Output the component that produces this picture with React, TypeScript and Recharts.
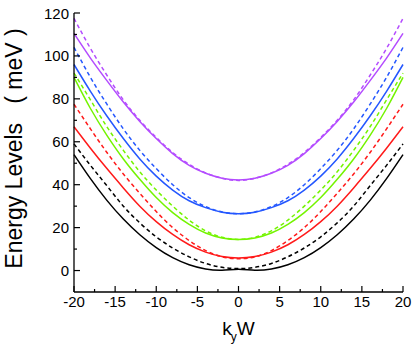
import React from "react";
import { LineChart, Line, XAxis, YAxis } from "recharts";

const kValues = [-20, -18, -16, -14, -12, -10, -8, -6, -4, -2, 0, 2, 4, 6, 8, 10, 12, 14, 16, 18, 20];

const blackSolid = [54, 42.8, 32.7, 24, 16.7, 10.7, 6.0, 2.7, 0.7, 0.1, 0.6, 0.1, 0.7, 2.7, 6.0, 10.7, 16.7, 24, 32.7, 42.8, 54];
const blackDashed = [59, 49, 39.5, 30, 22.2, 15.7, 10.5, 6.4, 3.3, 1.5, 0.9, 1.5, 3.3, 6.4, 10.5, 15.7, 22.2, 30, 39.5, 49, 59];
const redSolid = [67, 57, 47.5, 38.5, 30, 22.8, 16.8, 12, 8.6, 6.5, 5.8, 6.5, 8.6, 12, 16.8, 22.8, 30, 38.5, 47.5, 57, 67];
const redDashed = [77.5, 66, 55, 45, 36, 27.5, 20, 14, 9.3, 6.4, 5.5, 6.4, 9.3, 14, 20, 27.5, 36, 45, 55, 66, 77.5];
const greenSolid = [90, 75.5, 63, 52, 42.5, 34, 27, 21.5, 17.5, 15.2, 14.5, 15.2, 17.5, 21.5, 27, 34, 42.5, 52, 63, 75.5, 90];
const greenDashed = [92, 79.5, 67, 56, 46, 37.5, 30, 23.5, 18.5, 15.5, 14.5, 15.5, 18.5, 23.5, 30, 37.5, 46, 56, 67, 79.5, 92];
const blueSolid = [96, 83.5, 72, 61.5, 52, 44, 37.5, 32.5, 29.3, 27.2, 26.5, 27.2, 29.3, 32.5, 37.5, 44, 52, 61.5, 72, 83.5, 96];
const blueDashed = [104, 90, 77.5, 66, 56, 47.5, 40, 34, 29.8, 27.3, 26.5, 27.3, 29.8, 34, 40, 47.5, 56, 66, 77.5, 90, 104];
const purpleSolid = [110.5, 99, 88.5, 78.5, 69.5, 61.5, 54.5, 49, 45.3, 43, 42.2, 43, 45.3, 49, 54.5, 61.5, 69.5, 78.5, 88.5, 99, 110.5];
const purpleDashed = [117.5, 103.5, 91, 79.5, 70, 62, 55, 49.5, 45.5, 43, 42, 43, 45.5, 49.5, 55, 62, 70, 79.5, 91, 103.5, 117.5];

const xTicks = [-20, -17.5, -15, -12.5, -10, -7.5, -5, -2.5, 0, 2.5, 5, 7.5, 10, 12.5, 15, 17.5, 20];
const yTicks = [0, 10, 20, 30, 40, 50, 60, 70, 80, 90, 100, 110, 120];

const data = kValues.map((k, i) => ({
  k,
  s0: blackSolid[i],
  d0: blackDashed[i],
  s1: redSolid[i],
  d1: redDashed[i],
  s2: greenSolid[i],
  d2: greenDashed[i],
  s3: blueSolid[i],
  d3: blueDashed[i],
  s4: purpleSolid[i],
  d4: purpleDashed[i],
}));

const FONT = "'Liberation Sans', Arial, Helvetica, sans-serif";
const BLACK = "#000000";
const RED = "#ff1a1a";
const GREEN = "#74f400";
const BLUE = "#2457ff";
const PURPLE = "#b44cff";

const series = [
  { key: "s0", color: BLACK, dash: undefined },
  { key: "d0", color: BLACK, dash: "4 3" },
  { key: "s1", color: RED, dash: undefined },
  { key: "d1", color: RED, dash: "4 3" },
  { key: "s2", color: GREEN, dash: undefined },
  { key: "d2", color: GREEN, dash: "4 3" },
  { key: "s3", color: BLUE, dash: undefined },
  { key: "d3", color: BLUE, dash: "4 3" },
  { key: "s4", color: PURPLE, dash: undefined },
  { key: "d4", color: PURPLE, dash: "4 3" },
];

const BottomTick = (props: any) => {
  const { x, y, payload } = props;
  const v = payload.value;
  const major = v % 5 === 0;
  return (
    <g>
      <line x1={x} y1={y} x2={x} y2={y - (major ? 6 : 3)} stroke="#000" strokeWidth={1.2} />
      {major && (
        <text x={x} y={y + 15} textAnchor="middle" fontSize={15} fontFamily={FONT} fill="#000">
          {String(v)}
        </text>
      )}
    </g>
  );
};

const TopTick = (props: any) => {
  const { x, y, payload } = props;
  const major = payload.value % 5 === 0;
  return <line x1={x} y1={y} x2={x} y2={y + (major ? 6 : 3)} stroke="#000" strokeWidth={1.2} />;
};

const LeftTick = (props: any) => {
  const { x, y, payload } = props;
  const v = payload.value;
  const major = v % 20 === 0;
  return (
    <g>
      <line x1={x} y1={y} x2={x + (major ? 6 : 3)} y2={y} stroke="#000" strokeWidth={1.2} />
      {major && (
        <text x={x - 5} y={y + 5.5} textAnchor="end" fontSize={15} fontFamily={FONT} fill="#000">
          {String(v)}
        </text>
      )}
    </g>
  );
};

const RightTick = (props: any) => {
  const { x, y, payload } = props;
  const major = payload.value % 20 === 0;
  return <line x1={x} y1={y} x2={x - (major ? 6 : 3)} y2={y} stroke="#000" strokeWidth={1.2} />;
};

const YLabel = (props: any) => {
  const vb = props.viewBox || { x: 0, y: 13, width: 74, height: 279 };
  const cx = vb.x + 22;
  const cy = vb.y + vb.height / 2 - 4;
  return (
    <text
      x={cx}
      y={cy}
      transform={`rotate(-90, ${cx}, ${cy})`}
      textAnchor="middle"
      fontSize={23}
      fontFamily={FONT}
      fill="#000"
      style={{ whiteSpace: "pre" }}
    >
      {"Energy Levels   ( meV )"}
    </text>
  );
};

const XLabel = (props: any) => {
  const vb = props.viewBox || { x: 74, y: 292, width: 329, height: 55 };
  const cx = vb.x + vb.width / 2;
  const cy = vb.y + 43;
  return (
    <text x={cx} y={cy} textAnchor="middle" fontSize={19} fontFamily={FONT} fill="#000">
      <tspan>k</tspan>
      <tspan fontSize={12} dy={6} dx={-1}>y</tspan>
      <tspan fontSize={19} dy={-6}>W</tspan>
    </text>
  );
};

export default function App() {
  return (
    <div style={{ position: "absolute", left: 0, top: 0, width: 415, height: 347, background: "#fff" }}>
      <LineChart width={415} height={347} data={data} margin={{ top: 13, right: 12, left: 0, bottom: 0 }}>
        <XAxis
          xAxisId="b"
          dataKey="k"
          type="number"
          domain={[-20, 20]}
          ticks={xTicks}
          interval={0}
          height={55}
          tickSize={0}
          tickMargin={0}
          tickLine={false}
          axisLine={{ stroke: "#000", strokeWidth: 1.3 }}
          tick={<BottomTick />}
          label={<XLabel />}
        />
        <XAxis
          xAxisId="t"
          orientation="top"
          dataKey="k"
          type="number"
          domain={[-20, 20]}
          ticks={xTicks}
          interval={0}
          height={0}
          tickSize={0}
          tickMargin={0}
          tickLine={false}
          axisLine={{ stroke: "#000", strokeWidth: 1.3 }}
          tick={<TopTick />}
        />
        <YAxis
          yAxisId="l"
          type="number"
          domain={[-10, 120]}
          ticks={yTicks}
          interval={0}
          width={74}
          tickSize={0}
          tickMargin={0}
          tickLine={false}
          axisLine={{ stroke: "#000", strokeWidth: 1.3 }}
          tick={<LeftTick />}
          label={<YLabel />}
        />
        <YAxis
          yAxisId="r"
          orientation="right"
          type="number"
          domain={[-10, 120]}
          ticks={yTicks}
          interval={0}
          width={0}
          tickSize={0}
          tickMargin={0}
          tickLine={false}
          axisLine={{ stroke: "#000", strokeWidth: 1.3 }}
          tick={<RightTick />}
        />
        {series.map((s) => (
          <Line
            key={s.key}
            xAxisId="b"
            yAxisId="l"
            dataKey={s.key}
            type="natural"
            stroke={s.color}
            strokeWidth={1.5}
            strokeDasharray={s.dash}
            dot={false}
            activeDot={false}
            isAnimationActive={false}
          />
        ))}
      </LineChart>
    </div>
  );
}
